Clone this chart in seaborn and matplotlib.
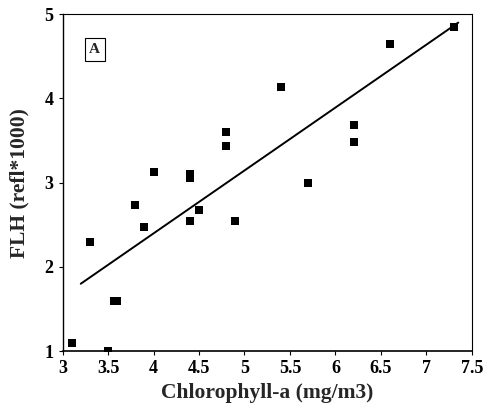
import numpy as np
import pandas as pd
import seaborn as sns
import matplotlib.pyplot as plt

# values
chl = [3.1, 3.5, 3.3, 3.57, 3.6, 3.8, 3.9, 4.0, 4.4, 4.4, 4.4, 4.5,
       4.8, 4.8, 4.9, 5.4, 5.7, 6.2, 6.2, 6.6, 7.3]
flh = [1.1, 1.0, 2.3, 1.6, 1.6, 2.73, 2.47, 3.13, 3.1, 3.05, 2.55, 2.68,
       3.6, 3.43, 2.55, 4.13, 3.0, 3.68, 3.48, 4.65, 4.85]
fit_x = [3.2, 7.35]
fit_y = [1.8, 4.9]
x_ticks = [3, 3.5, 4, 4.5, 5, 5.5, 6, 6.5, 7, 7.5]
x_labels = ['3', '3.5', '4', '4.5', '5', '5.5', '6', '6.5', '7', '7.5']
y_ticks = [1, 2, 3, 4, 5]

df = pd.DataFrame({'chl': chl, 'flh': flh})

sns.set_style('ticks')
plt.rcParams['font.family'] = ['Liberation Serif', 'DejaVu Serif']

fig = plt.figure(figsize=(4.85, 4.05), dpi=100)
ax = fig.add_axes([0.129, 0.133, 0.844, 0.832])

sns.lineplot(x=fit_x, y=fit_y, ax=ax, color='black', linewidth=1.4)
sns.scatterplot(data=df, x='chl', y='flh', ax=ax, marker='s', s=36,
                color='black', edgecolor='black', linewidth=0)

ax.set_xlim(3, 7.5)
ax.set_ylim(1, 5)
ax.set_xticks(x_ticks)
ax.set_xticklabels(x_labels)
ax.set_yticks(y_ticks)
ax.tick_params(labelsize=13, length=3, width=0.8, colors='black')
for lab in ax.get_xticklabels() + ax.get_yticklabels():
    lab.set_fontweight('bold')
for sp in ax.spines.values():
    sp.set_linewidth(0.8)
    sp.set_color('black')
ax.spines['left'].set_linewidth(1.0)
ax.spines['bottom'].set_linewidth(1.2)

ax.set_xlabel('Chlorophyll-a (mg/m3)', fontsize=15.5, fontweight='bold', labelpad=4)
ax.set_ylabel('FLH (refl*1000)', fontsize=15.5, fontweight='bold', labelpad=11)

ax.text(0.065, 0.885, 'A', transform=ax.transAxes, fontsize=11, fontweight='bold',
        bbox=dict(boxstyle='square,pad=0.3', facecolor='white', edgecolor='black', linewidth=0.8))

fig.savefig('out.png', dpi=100)
